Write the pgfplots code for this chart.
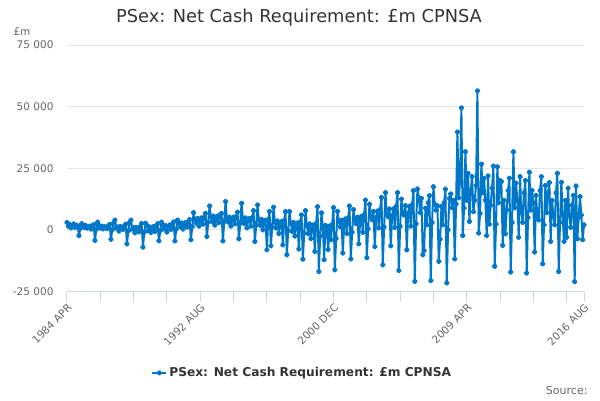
\documentclass[border=0pt]{standalone}
\usepackage{fontspec}
\setmainfont{DejaVu Sans}
\usepackage{pgfplots}
\pgfplotsset{compat=1.18}
\definecolor{series}{RGB}{0,119,200}
\definecolor{titlec}{HTML}{333333}
\definecolor{labelc}{HTML}{666666}
\definecolor{gridc}{HTML}{E6E6E6}
\definecolor{axisc}{HTML}{CCD6EB}
\begin{document}
\begin{tikzpicture}[x=1pt,y=1pt]
\path[use as bounding box] (0,0) rectangle (600,-400);
\node[anchor=center, text=titlec, font=\fontsize{17.8}{21}\selectfont] at (299,-18) {PSex: Net Cash Requirement: £m CPNSA};
\node[anchor=west, text=labelc, font=\fontsize{10.5}{12}\selectfont] at (10,-32) {£m};
\node[anchor=east, text=labelc, font=\fontsize{11}{13}\selectfont] at (591,-390) {Source:};
\begin{axis}[
  at={(67pt,-291.5pt)}, anchor=south west,
  scale only axis, width=517pt, height=246.5pt,
  xmin=0, xmax=388, ymin=-25000, ymax=75000,
  clip=false, scaled y ticks=false, scaled x ticks=false,
  axis x line*=bottom, axis y line*=left,
  y axis line style={draw=none},
  x axis line style={draw=axisc, line width=1pt},
  tick align=outside, major tick length=10pt, minor tick length=10pt,
  xtick={0,100,200,300,388},
  xticklabels={1984 APR,1992 AUG,2000 DEC,2009 APR,2016 AUG},
  minor xtick={25,50,75,125,150,175,225,250,275,325,350,375},
  xtick style={draw=axisc, line width=1pt},
  minor x tick style={draw=axisc, line width=1pt},
  ytick={-25000,0,25000,50000,75000},
  yticklabels={-25 000,0,25 000,50 000,75 000},
  ytick style={draw=none},
  ymajorgrids, grid style={draw=gridc, line width=1pt},
  xticklabel style={rotate=45, anchor=north east, text=labelc, font=\fontsize{10.5}{12}\selectfont, inner sep=1pt},
  yticklabel style={text=labelc, font=\fontsize{10.5}{12}\selectfont},
  legend style={at={(0.455,-0.33)}, anchor=center, draw=none, fill=none, font=\bfseries\fontsize{12.2}{14}\selectfont, text=titlec},
  legend image code/.code={\draw[#1, mark repeat=2, mark phase=2] plot coordinates {(0pt,0pt) (7pt,0pt) (14pt,0pt)};},
]
\addplot[color=series, line width=2pt, mark=*, mark size=1.8pt, line join=round]
  table[row sep=\\, x expr=\coordindex, y=v] {
v\\
3000\\ 1500\\ 2200\\ 800\\ 1600\\ 2400\\ 1000\\ 1900\\ 1500\\ -2300\\ 600\\ 2500\\
2000\\ 1000\\ 1800\\ 700\\ 1200\\ 1500\\ 300\\ 1600\\ 2100\\ -4300\\ 300\\ 3100\\
1700\\ 700\\ 1500\\ 400\\ 1300\\ 1000\\ 500\\ 1700\\ 2200\\ -3800\\ 100\\ 2800\\
4000\\ 800\\ 1200\\ -500\\ 1400\\ 600\\ 200\\ 1600\\ 2300\\ -5700\\ -400\\ 3000\\
4000\\ 300\\ 900\\ -1200\\ 1000\\ 400\\ -800\\ 1300\\ 2600\\ -7000\\ -900\\ 2700\\
1800\\ -300\\ 1200\\ -1000\\ 800\\ 1400\\ -600\\ 1700\\ 2500\\ -4500\\ -300\\ 3100\\
2000\\ 400\\ 1700\\ -900\\ 1300\\ 2000\\ 200\\ 2300\\ 3200\\ -4500\\ 300\\ 4000\\
2600\\ 1400\\ 2800\\ 300\\ 2400\\ 3000\\ 1100\\ 3200\\ 4200\\ -4000\\ 1300\\ 7000\\
4200\\ 2700\\ 4600\\ 1500\\ 3800\\ 4900\\ 2300\\ 5100\\ 6700\\ -2700\\ 3100\\ 9700\\
5300\\ 3300\\ 5600\\ 1900\\ 4400\\ 5600\\ 2900\\ 6100\\ 6700\\ -4500\\ 3400\\ 11500\\
4700\\ 3100\\ 5200\\ 1500\\ 4100\\ 5200\\ 2400\\ 5400\\ 7200\\ -3600\\ 2600\\ 10800\\
4300\\ 2600\\ 4900\\ 800\\ 3800\\ 4600\\ 1500\\ 5000\\ 7800\\ -4700\\ 2000\\ 10100\\
3800\\ 1800\\ 4300\\ 0\\ 3200\\ 4000\\ -8100\\ 4200\\ 7500\\ -6500\\ 1200\\ 9200\\
3100\\ 700\\ 3600\\ -1500\\ 2700\\ 3400\\ -6100\\ 3800\\ 7400\\ -10100\\ -300\\ 7400\\
2600\\ -600\\ 3000\\ -2500\\ 2100\\ 2800\\ -7800\\ 3200\\ 6100\\ -11900\\ -1400\\ 7800\\
1700\\ -1500\\ 2400\\ -3500\\ 1200\\ 2000\\ -8800\\ 2600\\ 9400\\ -16900\\ -2600\\ 6900\\
1200\\ -12100\\ 1800\\ 500\\ -8000\\ 1500\\ -4000\\ 2200\\ 9000\\ -16200\\ -3500\\ 7500\\
3500\\ 1200\\ 4000\\ -9400\\ 2500\\ 4500\\ -1500\\ 4800\\ 9700\\ -11800\\ -1000\\ 8200\\
4000\\ 2500\\ 5200\\ -5700\\ 3800\\ 5500\\ -1000\\ 6200\\ 12100\\ -11300\\ 500\\ 10400\\
5500\\ 4200\\ 7500\\ -6800\\ 5000\\ 7600\\ 800\\ 8300\\ 13200\\ -14200\\ 1200\\ 15100\\
6200\\ 5300\\ 8500\\ -6500\\ 5800\\ 8500\\ 1000\\ 9500\\ 15100\\ -16500\\ 1500\\ 12500\\
6500\\ 6000\\ 9800\\ -8100\\ 6700\\ 9500\\ 1500\\ 10200\\ 15900\\ -20900\\ 2500\\ 16600\\
13200\\ 7000\\ 12800\\ -10100\\ -8400\\ 8800\\ 2000\\ 11000\\ 13900\\ -20600\\ 3000\\ 17500\\
10400\\ 8000\\ 9800\\ -12800\\ -3800\\ 9500\\ 2000\\ 11000\\ 16500\\ -21500\\ 0\\ 12800\\
14600\\ 9000\\ 12000\\ -11800\\ 10500\\ 39700\\ 13000\\ 20000\\ 49500\\ -2300\\ 8800\\ 31700\\
12000\\ 22900\\ 3400\\ 16000\\ 21600\\ 7400\\ 12000\\ 18000\\ 56400\\ -1300\\ 6700\\ 26700\\
15000\\ 20900\\ 12000\\ -2300\\ 21900\\ 2300\\ 10000\\ 17000\\ 25900\\ -14800\\ 2300\\ 25600\\
11000\\ 20000\\ 19600\\ -6300\\ 12000\\ -1600\\ 8000\\ 16000\\ 21000\\ -17100\\ 3000\\ 31700\\
9000\\ 19000\\ 12000\\ -3000\\ 21600\\ 7000\\ 3000\\ 15000\\ 20000\\ -17500\\ 5000\\ 23400\\
8000\\ 16000\\ 11000\\ -9000\\ 14000\\ 5000\\ 4000\\ 16000\\ 21600\\ -13800\\ 2000\\ 18000\\
7000\\ 15000\\ 19200\\ -4700\\ 12000\\ 6000\\ 2000\\ 15000\\ 23000\\ -16900\\ 3000\\ 19300\\
6000\\ -4700\\ 12000\\ -3000\\ 16900\\ 6000\\ 1000\\ 10000\\ 14000\\ -21000\\ 17800\\ -3600\\
5000\\ 13500\\ 6000\\ -4000\\ 2000\\
};
\addlegendentry{PSex: Net Cash Requirement: £m CPNSA}
\end{axis}
\end{tikzpicture}
\end{document}
